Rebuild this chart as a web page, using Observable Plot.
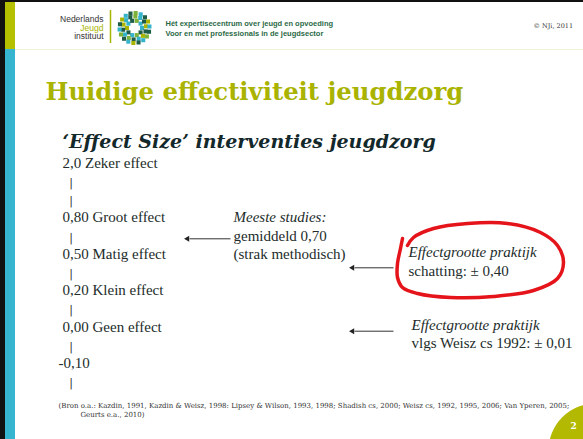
<!DOCTYPE html>
<html>
<head>
<meta charset="utf-8">
<script src="https://cdn.jsdelivr.net/npm/d3@7"></script>
<script src="https://cdn.jsdelivr.net/npm/@observablehq/plot@0.6"></script>
<style>
  html, body { margin: 0; padding: 0; background: #fff; overflow: hidden; }
  #chart svg { display: block; }
</style>
</head>
<body>
<div id="chart"></div>
<script>
// ---------- data ----------
const logoWords = ["Nederlands", "Jeugd", "instituut"];
const taglines = ["Hét expertisecentrum over jeugd en opvoeding", "Voor en met professionals in de jeugdsector"];
const copyright = ["© NJi, 2011"];
const title = ["Huidige effectiviteit jeugdzorg"];
const subtitle = ["‘Effect Size’ interventies jeugdzorg"];
const levels = ["2,0", "0,80", "0,50", "0,20", "0,00", "-0,10"];
const levelNames = ["Zeker effect", "Groot effect", "Matig effect", "Klein effect", "Geen effect", ""];
const barsAfter = [2, 1, 1, 1, 1, 1];
const noteHeads = ["Meeste studies:", "Effectgrootte praktijk", "Effectgrootte praktijk"];
const noteBodies = [["gemiddeld 0,70", "(strak methodisch)"], ["schatting: ± 0,40"], ["vlgs Weisz cs 1992: ± 0,01"]];
const noteValues = [0.70, 0.40, 0.01];
const sources = ["(Bron o.a.: Kazdin, 1991, Kazdin & Weisz, 1998: Lipsey & Wilson, 1993, 1998; Shadish cs, 2000; Weisz cs, 1992, 1995, 2006; Van Yperen, 2005;", "Geurts e.a., 2010)"];
const pageNumber = ["2"];
// hand-drawn red loop around the practice estimate
const loopX = [402, 400, 397, 397, 402, 417, 450, 493, 533, 557, 563, 557, 540, 507, 467, 433, 413, 407];
const loopY = [238, 248, 263, 277, 287, 293, 297, 296, 290, 278, 262, 245, 232, 223, 223, 228, 237, 245];

// ---------- layout ----------
const row = d3.scaleLinear().domain([0, 1]).range([167.3, 185.5]); // baseline of ladder row
const ladder = [];
const bars = [];
let r = 0;
levels.forEach((v, i) => {
  ladder.push({text: levelNames[i] ? `${v} ${levelNames[i]}` : v, neg: v.startsWith("-"), row: r});
  for (let k = 0; k < barsAfter[i]; k++) { r++; bars.push({row: r}); }
  r++;
});
const noteX = [233, 408, 411];
const noteRow = [3, 5, 9];
const noteDy = [0, -1.5, -1.7];
const arrowY = [238.3, 267.3, 330.7];
const arrowX = [[230, 185], [393, 350], [393, 350]];
const notes = [];
noteHeads.forEach((h, i) => {
  notes.push({text: h, italic: true, x: noteX[i], y: row(noteRow[i]) + noteDy[i]});
  noteBodies[i].forEach((b, j) => notes.push({text: b, italic: false, x: noteX[i], y: row(noteRow[i] + 1 + j) + noteDy[i]}));
});
const arrows = noteValues.map((v, i) => ({value: v, x1: arrowX[i][0], x2: arrowX[i][1], y: arrowY[i]}));
const loop = loopX.map((x, i) => ({x, y: loopY[i]}));

// logo ring (decorative)
const ringPal = ["#35b3cb", "#a9b400", "#1f5d48", "#35b3cb", "#7fb23a", "#1f5d48"];
const ring = [];
[[7.5, 10], [11.5, 14], [15, 18]].forEach(([rad, n], k) => {
  for (let i = 0; i < n; i++) {
    const a = (i / n) * 2 * Math.PI + k * 0.3;
    ring.push({x: 134 + rad * Math.cos(a), y: 27.5 + rad * Math.sin(a), c: ringPal[(i * 5 + k * 2) % ringPal.length]});
  }
});

const serif = "'Liberation Serif', 'Times New Roman', serif";
const dserif = "'DejaVu Serif', serif";
const sans = "'Liberation Sans', Arial, sans-serif";
const ink = "#222c2a";

const chart = Plot.plot({
  width: 583,
  height: 439,
  margin: 0,
  x: {domain: [0, 583], range: [0, 583], axis: null},
  y: {domain: [0, 439], range: [0, 439], axis: null},
  style: {background: "#fff", overflow: "hidden"},
  marks: [
    // frame stripes
    Plot.rect([0], {x1: 0, x2: 583, y1: 0, y2: 2, fill: "#111"}),
    Plot.rect([0], {x1: 0, x2: 5, y1: 0, y2: 439, fill: "#111"}),
    Plot.rect([0], {x1: 5, x2: 15, y1: 2, y2: 49, fill: "#b5c000"}),
    Plot.rect([0], {x1: 5, x2: 15, y1: 49, y2: 439, fill: "#36b4d0"}),
    Plot.ruleY([49], {x1: 15, x2: 583, stroke: "#eef2d6", strokeWidth: 1}),
    // header logo
    Plot.text(logoWords, {x: 103, y: (d, i) => [21.5, 30, 38.5][i], text: d => d, textAnchor: "end", lineAnchor: "bottom",
      fontFamily: sans, fontSize: 8.5, fontWeight: (d, i) => i === 1 ? "bold" : "normal",
      fill: (d, i) => i === 1 ? "#a9b400" : "#333"}),
    Plot.ruleX([110], {y1: 10, y2: 43, stroke: "#a9b400", strokeWidth: 1.5}),
    Plot.dot(ring, {x: "x", y: "y", fill: "c", symbol: "square", r: 2.3, stroke: null}),
    Plot.dot([0], {x: 134, y: 27.5, r: 4, fill: "#fff"}),
    Plot.text(taglines, {x: 165, y: (d, i) => [25, 35][i], text: d => d, textAnchor: "start", lineAnchor: "bottom",
      fontFamily: sans, fontSize: 7.5, fontWeight: "bold", fill: "#2b6a46"}),
    Plot.text(copyright, {x: 533, y: 27.5, text: d => d, textAnchor: "start", lineAnchor: "bottom",
      fontFamily: dserif, fontSize: 6.5, fill: "#333"}),
    // title and subtitle
    Plot.text(title, {x: 45, y: 99.3, text: d => d, textAnchor: "start", lineAnchor: "bottom",
      fontFamily: dserif, fontSize: 24.3, fontWeight: "bold", fill: "#a9b300"}),
    Plot.text(subtitle, {x: 62, y: 147.3, text: d => d, textAnchor: "start", lineAnchor: "bottom",
      fontFamily: dserif, fontSize: 19, fontWeight: "bold", fontStyle: "italic", fill: "#13282a"}),
    // effect-size ladder
    Plot.text(ladder, {x: d => d.neg ? 58 : 62, y: d => row(d.row), text: "text", textAnchor: "start", lineAnchor: "bottom",
      fontFamily: serif, fontSize: 15, fill: ink}),
    Plot.text(bars, {x: 70.5, y: d => row(d.row), text: () => "|", textAnchor: "middle", lineAnchor: "bottom",
      fontFamily: dserif, fontSize: 11, fill: "#2a2a2a"}),
    // annotations
    Plot.text(notes.filter(d => d.italic), {x: "x", y: "y", text: "text", textAnchor: "start", lineAnchor: "bottom",
      fontFamily: serif, fontSize: 15, fontStyle: "italic", fill: ink}),
    Plot.text(notes.filter(d => !d.italic), {x: "x", y: "y", text: "text", textAnchor: "start", lineAnchor: "bottom",
      fontFamily: serif, fontSize: 15, fill: ink}),
    Plot.link(arrows, {x1: "x1", x2: d => d.x2 + 4, y1: "y", y2: "y", stroke: "#333", strokeWidth: 1}),
    Plot.dot(arrows, {x: d => d.x2 + 2, y: "y", symbol: "triangle", rotate: -90, r: 2.2, fill: "#222", stroke: null}),
    // red hand-drawn loop
    Plot.line(loop, {x: "x", y: "y", curve: "catmull-rom", stroke: "#e5141b", strokeWidth: 3.5, strokeLinecap: "round", strokeLinejoin: "round"}),
    // sources
    Plot.text(sources, {x: (d, i) => [58, 80][i], y: (d, i) => [407.5, 416.5][i], text: d => d, textAnchor: "start", lineAnchor: "bottom",
      fontFamily: dserif, fontSize: 7, fill: "#333"}),
    // page number badge
    Plot.dot([0], {x: 595, y: 450, r: 47, fill: "#b3b800", stroke: null}),
    Plot.text(pageNumber, {x: 573, y: 428, text: d => d, textAnchor: "middle", lineAnchor: "bottom",
      fontFamily: dserif, fontSize: 9, fontWeight: "bold", fill: "#fff"})
  ]
});
document.getElementById("chart").appendChild(chart);
</script>
</body>
</html>
